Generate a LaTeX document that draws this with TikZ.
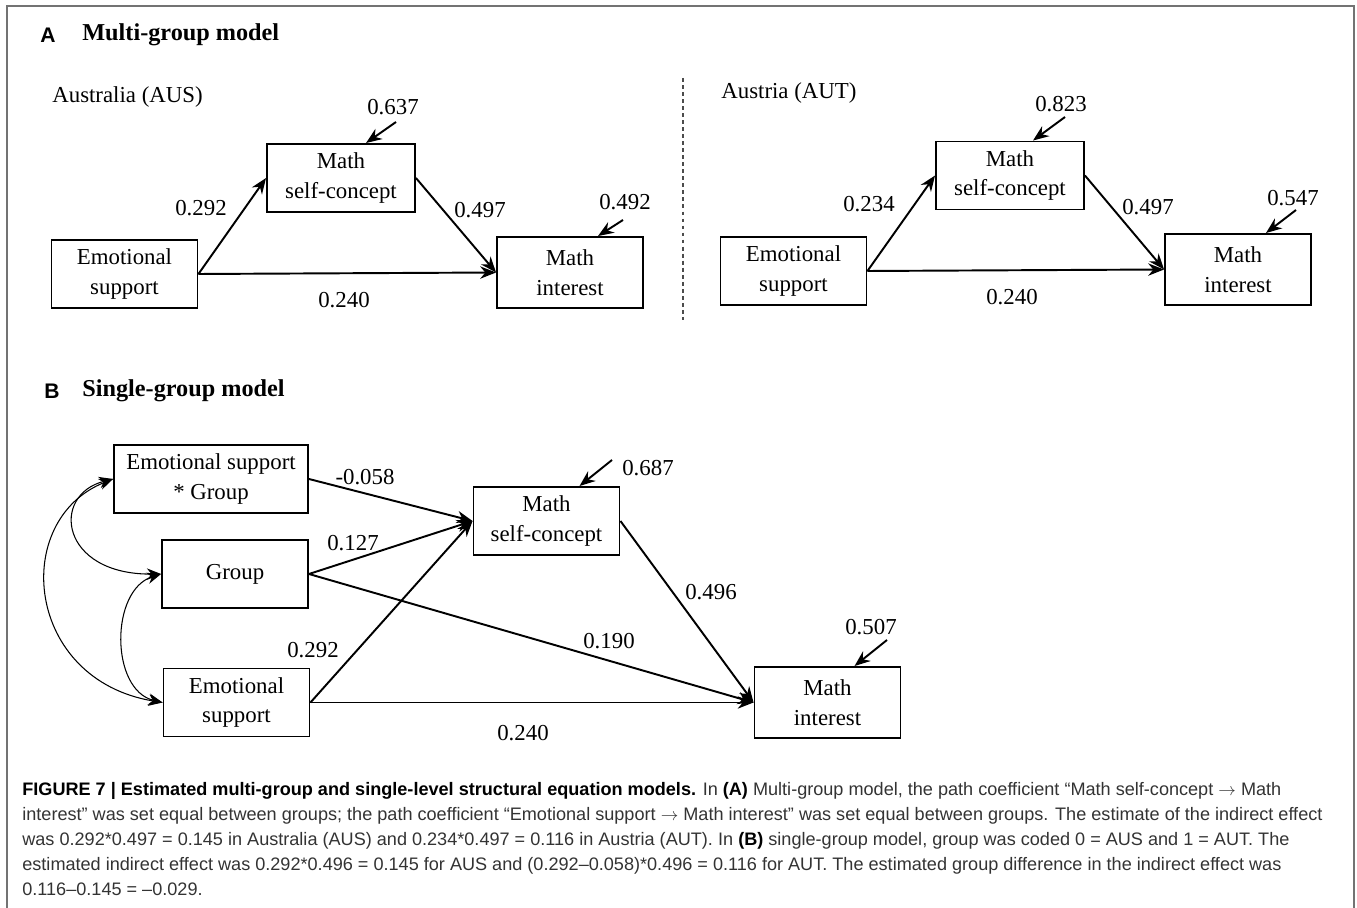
\documentclass[tikz,border=0pt]{standalone}
\usepackage{fontspec}
\setmainfont{Liberation Serif}
\setsansfont{Liberation Sans}
\usetikzlibrary{arrows.meta,calc}
\tikzset{>={Stealth[length=9pt,width=7pt]}}
\tikzset{var/.style={draw,line width=1.1pt,minimum width=2.92cm,minimum height=1.36cm,align=center,inner sep=1pt},
  coef/.style={inner sep=0pt},
  path/.style={->,line width=1.1pt},
  cov/.style={<->,line width=0.6pt,>={Stealth[length=8pt,width=6.5pt]}}}

\begin{document}
\begin{tikzpicture} [x=0.02cm,y=-0.02cm,font=\fontsize{13}{17}\selectfont]
        \useasboundingbox (0,0) rectangle (1357,908);
        \draw [black!55,line width=1.2pt] (7,908)--(7,6)--(1354,6)--(1354,908);
        \node [font=\sffamily\bfseries\fontsize{12}{14}\selectfont] (hA) at (48,35) {A};
        \node [anchor=west,coef,font=\bfseries\fontsize{13.8}{16}\selectfont] (tA) at (82,35) {Multi-group model};
        \node [font=\sffamily\bfseries\fontsize{12}{14}\selectfont] (hB) at (52,391) {B};
        \node [anchor=west,coef,font=\bfseries\fontsize{13.8}{16}\selectfont] (tB) at (82,391) {Single-group model};
        \draw [black!70,line width=0.6pt,dash pattern=on 2.2pt off 1.8pt] (683,78)--(683,320);
        % Australia
        \node [anchor=west,coef] (aus) at (52,97) {Australia (AUS)};
        \node [var] (emoA) at (124.5,274) {Emotional\\support};
        \node [var,minimum width=2.96cm] (msA) at (341,178) {Math\\self-concept};
        \node [var,minimum height=1.42cm] (miA) at (570,272.5) {Math\\interest};
        \draw [path] (emoA.east)--(msA.west);
        \draw [path] (msA.east)--(miA.west);
        \draw [path] (emoA.east)--(miA.west);
        \node [coef] (a1) at (201,208) {0.292};
        \node [coef] (a2) at (480,210) {0.497};
        \node [coef] (a3) at (344,300) {0.240};
        \node [coef] (a4) at (393,107) {0.637};
        \node [coef] (a5) at (625,202) {0.492};
        \coordinate (rmsA) at (396,122);
        \coordinate (rmiA) at (623,220);
        \draw [path] (rmsA)--($(msA.north)+(25,0)$);
        \draw [path] (rmiA)--($(miA.north)+(28,0)$);
        % Austria
        \node [anchor=west,coef] (aut) at (721,93) {Austria (AUT)};
        \node [var] (emoT) at (793.5,271) {Emotional\\support};
        \node [var,minimum width=2.96cm] (msT) at (1010,175.5) {Math\\self-concept};
        \node [var,minimum height=1.42cm] (miT) at (1238,269.5) {Math\\interest};
        \draw [path] (emoT.east)--(msT.west);
        \draw [path] (msT.east)--(miT.west);
        \draw [path] (emoT.east)--(miT.west);
        \node [coef] (t1) at (869,204) {0.234};
        \node [coef] (t2) at (1148,207) {0.497};
        \node [coef] (t3) at (1012,297) {0.240};
        \node [coef] (t4) at (1061,104) {0.823};
        \node [coef] (t5) at (1293,198) {0.547};
        \coordinate (rmsT) at (1065,117);
        \coordinate (rmiT) at (1296,210);
        \draw [path] (rmsT)--($(msT.north)+(23,0)$);
        \draw [path] (rmiT)--($(miT.north)+(28,0)$);
        % single group
        \node [var,minimum width=3.88cm] (esg) at (211,479) {Emotional support\\* Group};
        \node [var] (grp) at (235,574) {Group};
        \node [var] (es) at (236.5,702.5) {Emotional\\support};
        \node [var] (ms) at (546.5,521) {Math\\self-concept};
        \node [var,minimum height=1.42cm] (mi) at (827.5,702.5) {Math\\interest};
        \draw [path] (esg.east)--(ms.west);
        \draw [path] (grp.east)--(ms.west);
        \draw [path] (es.east)--(ms.west);
        \draw [path] (grp.east)--(mi.west);
        \draw [path] (es.east)--(mi.west);
        \draw [path] (ms.east)--(mi.west);
        \draw [cov] (esg.west) .. controls (10,520) and (25,680) .. (es.west);
        \draw [cov] (esg.west) .. controls (50,495) and (60,575) .. (grp.west);
        \draw [cov] (grp.west) .. controls (110,590) and (110,690) .. (es.west);
        \node [coef] (b1) at (365,477) {-0.058};
        \node [coef] (b2) at (353,543) {0.127};
        \node [coef] (b3) at (313,650) {0.292};
        \node [coef] (b4) at (711,592) {0.496};
        \node [coef] (b5) at (609,641) {0.190};
        \node [coef] (b6) at (523,733) {0.240};
        \node [coef] (b7) at (648,468) {0.687};
        \node [coef] (b8) at (871,627) {0.507};
        \coordinate (rms) at (612,460);
        \coordinate (rmi) at (887,640);
        \draw [path] (rms)--($(ms.north)+(33,0)$);
        \draw [path] (rmi)--($(mi.north)+(27,0)$);
        % caption
        \node [anchor=north west,align=left,inner sep=0pt,text=black!80,font=\sffamily\fontsize{10.3}{14.3}\selectfont] (cap) at (22,782)
        {\textbf{\color{black}FIGURE 7 | Estimated multi-group and single-level structural equation models.} In \textbf{\color{black}(A)} Multi-group model, the path coefficient “Math self-concept $\rightarrow$ Math\\
        interest” was set equal between groups; the path coefficient “Emotional support $\rightarrow$ Math interest” was set equal between groups. The estimate of the indirect effect\\
        was 0.292*0.497 = 0.145 in Australia (AUS) and 0.234*0.497 = 0.116 in Austria (AUT). In \textbf{\color{black}(B)} single-group model, group was coded 0 = AUS and 1 = AUT. The\\
        estimated indirect effect was 0.292*0.496 = 0.145 for AUS and (0.292--0.058)*0.496 = 0.116 for AUT. The estimated group difference in the indirect effect was\\
        0.116--0.145 = --0.029.};
      \end{tikzpicture}
\end{document}
